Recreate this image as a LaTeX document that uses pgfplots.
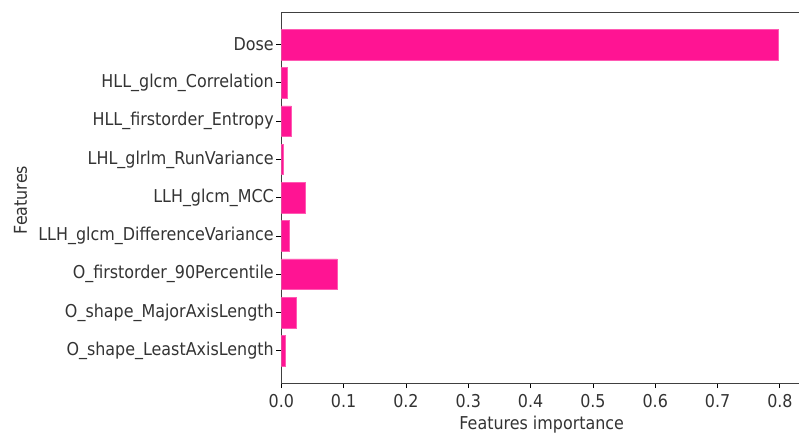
\documentclass[border=0pt]{standalone}
\usepackage{pgfplots}
\pgfplotsset{compat=1.18}
\usepackage{fontspec}
\setmainfont{DejaVu Sans}[FakeStretch=0.9]
\definecolor{barpink}{HTML}{FF1493}
\newcommand\chartfont{\fontsize{17.7}{20}\selectfont}

\begin{document}
\begin{tikzpicture}
    \begin{axis}[
            scale only axis,
            width=521.7pt, height=370.7pt,
            xmin=0, xmax=0.837,
            ymin=-0.84, ymax=8.84,
            y dir=reverse,
            xbar, bar width=30.6pt, bar shift=0pt,
            xtick={0,0.1,0.2,0.3,0.4,0.5,0.6,0.7,0.8},
            ytick={0,1,2,3,4,5,6,7,8},
            yticklabels={Dose, HLL\_glcm\_Correlation, HLL\_firstorder\_Entropy,
                LHL\_glrlm\_RunVariance, LLH\_glcm\_MCC, LLH\_glcm\_DifferenceVariance,
                O\_firstorder\_90Percentile, O\_shape\_MajorAxisLength, O\_shape\_LeastAxisLength},
            xticklabel style={/pgf/number format/fixed, /pgf/number format/precision=1,
                /pgf/number format/fixed zerofill, yshift=-3pt},
            yticklabel style={xshift=1pt},
            /pgf/number format/assume math mode=true,
            tick label style={font=\chartfont, text=black!80},
            tick align=outside, tick pos=left,
            major tick length=5pt,
            tick style={line width=0.9pt, black},
            axis line style={line width=0.9pt, black!75},
        ]
        \addplot[fill=barpink, draw=barpink!70, line width=0.5pt] coordinates {
            (0.797,0) (0.0096,1) (0.016,2) (0.003,3) (0.0385,4)
            (0.0134,5) (0.0894,6) (0.0236,7) (0.006,8)
        };
    \end{axis}
    \node[rotate=90, font=\chartfont, text=black!80] at (-260.8pt,183pt) {Features};
    \node[font=\chartfont, text=black!80] at (260.4pt,-41.5pt) {Features importance};
    \pgfresetboundingbox
    \path[use as bounding box] (-281.3pt,-54pt) rectangle (517.7pt,383pt);
\end{tikzpicture}
\end{document}
